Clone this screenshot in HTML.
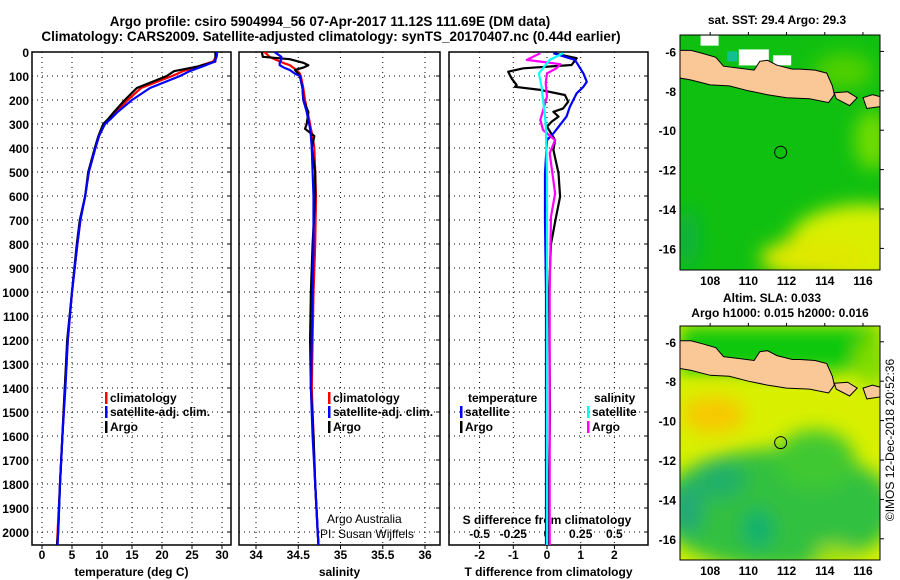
<!DOCTYPE html>
<html><head><meta charset="utf-8">
<style>
html,body{margin:0;padding:0;background:#fff;}
svg{display:block;font-family:"Liberation Sans",Arial,sans-serif;}
.b{font-weight:bold;font-size:12px;}
</style></head>
<body>
<svg id="chart" width="900" height="580" viewBox="0 0 900 580" xmlns="http://www.w3.org/2000/svg">
<defs>
<clipPath id="c1"><rect x="32" y="52" width="199" height="493"/></clipPath>
<clipPath id="c2"><rect x="239" y="52" width="201" height="493"/></clipPath>
<clipPath id="c3"><rect x="449" y="52" width="199" height="493"/></clipPath>
<clipPath id="cm1"><rect x="680" y="35" width="200" height="235"/></clipPath>
<clipPath id="cm2"><rect x="680" y="326" width="200" height="234"/></clipPath>
<filter id="bl" x="-50%" y="-50%" width="200%" height="200%"><feGaussianBlur stdDeviation="9"/></filter>
<filter id="bl2" x="-50%" y="-50%" width="200%" height="200%"><feGaussianBlur stdDeviation="4"/></filter>
</defs>
<text x="330" y="26" text-anchor="middle" font-size="13.5" font-weight="bold">Argo profile: csiro 5904994_56 07-Apr-2017 11.12S 111.69E (DM data)</text>
<text x="331" y="41" text-anchor="middle" font-size="13.5" font-weight="bold">Climatology: CARS2009. Satellite-adjusted climatology: synTS_20170407.nc (0.44d earlier)</text>
<g id="panels"></g>
<g id="maps"></g>
<text transform="translate(894,440) rotate(-90)" text-anchor="middle" font-size="12">©IMOS 12-Dec-2018 20:52:36</text>
</svg>
<script>
// ---------- DATA ----------
const depthTicks = [0,100,200,300,400,500,600,700,800,900,1000,1100,1200,1300,1400,1500,1600,1700,1800,1900,2000];
const tempTicks = [0,5,10,15,20,25,30];
const salTicks = [34,34.5,35,35.5,36];
const tdiffTicks = [-2,-1,0,1,2];
const sdiffTicks = [-0.5,-0.25,0,0.25,0.5];
const sdiffTickLabels = ["-0.5","-0.25","0","0.25","0.5"];
const lonTicks = [108,110,112,114,116];
const latTicks = [-6,-8,-10,-12,-14,-16];

const tDepth = [0,20,40,60,80,100,150,200,250,280,300,350,400,500,600,700,800,1000,1200,1400,1600,1800,2000,2055];
const tempClim = [29.0,29.0,28.5,26.0,23.5,21.7,16.5,14.3,12.2,11.2,10.4,9.5,8.9,7.8,7.2,6.4,5.9,5.0,4.3,3.8,3.4,3.0,2.6,2.5];
const tempSat = [29.2,29.1,28.8,26.8,24.6,23.0,18.0,15.0,12.6,11.4,10.5,9.5,8.9,7.8,7.2,6.4,5.9,5.0,4.3,3.9,3.4,3.0,2.7,2.6];
const tempArgo = [28.9,28.9,28.9,26.0,22.0,20.8,15.8,13.8,12.0,11.0,10.2,9.4,8.8,7.7,7.2,6.3,5.8,5.0,4.2,3.8,3.4,3.0,2.7,2.5];

const sDepth = [0,20,30,45,55,65,75,90,100,150,200,250,300,320,350,400,500,600,800,1000,1200,1400,1600,1800,2000,2055];
const salClim = [34.10,34.16,34.22,34.32,34.40,34.44,34.48,34.52,34.53,34.56,34.58,34.61,34.64,34.65,34.67,34.69,34.70,34.71,34.70,34.68,34.67,34.66,34.68,34.70,34.73,34.74];
const salSat = [34.22,34.30,34.30,34.28,34.28,34.33,34.40,34.46,34.52,34.55,34.56,34.60,34.63,34.64,34.65,34.66,34.67,34.68,34.68,34.67,34.66,34.65,34.67,34.70,34.73,34.74];
const salArgo = [34.07,34.08,34.40,34.56,34.62,34.56,34.46,34.50,34.52,34.55,34.56,34.62,34.60,34.58,34.69,34.66,34.70,34.70,34.67,34.65,34.64,34.65,34.68,34.70,34.73,34.74];

const dDepthArgoT = [5,26,54,68,82,110,138,145,158,179,207,235,249,269,290,311,367,408,505,603,686,800,1000,1500,2055];
const tdiffArgo = [0.19,0.88,0.73,-0.70,-1.15,-1.05,-0.90,-0.95,-0.20,0.53,0.63,0.48,0.19,0.34,0.14,0.0,0.24,0.19,0.34,0.39,0.27,0.12,0.06,0.09,0.03];
const dDepthSatT = [5,33,89,124,145,172,228,269,339,367,505,700,1000,2055];
const tdiffSat = [0.19,0.83,1.08,1.18,1.08,0.88,0.68,0.58,0.19,0.0,-0.06,-0.06,-0.03,-0.03];
const dDepthArgoS = [5,33,51,68,89,130,186,283,325,367,422,589,686,1000,2055];
const sdiffArgo = [-0.05,-0.15,0.10,0.07,0.0,-0.01,0.0,-0.05,-0.03,0.06,0.02,0.06,0.03,0.02,0.02];
const dDepthSatS = [5,33,89,145,297,505,1000,2055];
const sdiffSat = [0.12,0.02,-0.06,-0.04,-0.01,0.0,0.0,0.0];

const floatLon = 111.69, floatLat = -11.12;
const javaLon = [106.4,107,107.6,108.3,108.7,109.5,110.3,110.6,111.0,111.5,112.3,112.7,113.5,114.1,114.4,114.5,114.2,113.2,112,111,110,109,108,107,106.4];
const javaLat = [-5.95,-5.95,-6.1,-6.3,-6.75,-6.85,-6.95,-6.5,-6.45,-6.7,-6.9,-6.9,-6.95,-7.1,-7.75,-8.2,-8.6,-8.4,-8.35,-8.2,-8.0,-7.75,-7.7,-7.45,-7.35];
const baliLon = [114.5,115.2,115.7,115.3,114.6];
const baliLat = [-8.1,-8.05,-8.35,-8.75,-8.4];
const lombokLon = [116.0,116.5,116.9,116.9,116.2];
const lombokLat = [-8.35,-8.2,-8.3,-8.8,-8.9];

// ---------- SCALES ----------
const yD = d => 52 + 0.24*d;
const xT = t => 42 + 6*t;
const xS = s => 256 + 84.5*(s-34);
const xDT = d => 547 + 33.7*d;
const xDS = s => 547 + 134.8*s;
const mX = l => 679.6 + (l-106.4)*19.1;
const mY1 = la => 51.4 + (-6-la)*19.7;
const mY2 = la => 341.8 + (-6-la)*19.7;

const NS = "http://www.w3.org/2000/svg";
function mk(tag, attrs, parent){ const e=document.createElementNS(NS,tag); for(const k in attrs) e.setAttribute(k,attrs[k]); parent.appendChild(e); return e; }
function txt(x,y,s,cls,anchor,parent){ const e=mk('text',{x:x,y:y,'text-anchor':anchor||'start'},parent); if(cls) e.setAttribute('class',cls); e.textContent=s; return e; }

const panels = document.getElementById('panels');
const P = [
 {x0:32,x1:231,clip:'c1',name:'temperature-panel',ticks:tempTicks,xf:xT,title:'temperature (deg C)',lab:t=>String(t)},
 {x0:239,x1:440,clip:'c2',name:'salinity-panel',ticks:salTicks,xf:xS,title:'salinity',lab:t=>String(t)},
 {x0:449,x1:648,clip:'c3',name:'difference-panel',ticks:tdiffTicks,xf:xDT,title:'T difference from climatology',lab:t=>String(t)}
];
P.forEach((p,pi)=>{
  const g = mk('g',{},panels);
  
  
  const grid = mk('g',{'clip-path':'url(#'+p.clip+')',stroke:'#000','stroke-width':1,'stroke-dasharray':'1,4'},g);
  
  
  depthTicks.forEach(d=>{ mk('line',{x1:p.x0,x2:p.x1,y1:yD(d),y2:yD(d)},grid); });
  p.ticks.forEach(t=>{ mk('line',{x1:p.xf(t),x2:p.xf(t),y1:52,y2:545},grid); });
  const fr = mk('rect',{x:p.x0,y:52,width:p.x1-p.x0,height:493,fill:'none',stroke:'#000','stroke-width':1.5},g);
  
  
  p.ticks.forEach(t=>{
    mk('line',{x1:p.xf(t),x2:p.xf(t),y1:545,y2:549,stroke:'#000'},g);
    const l = txt(p.xf(t),559,p.lab(t),'b','middle',g);
    
    
  });
  const at = txt((p.x0+p.x1)/2,576,p.title,'b','middle',g);
  
  
  depthTicks.forEach(d=>{ mk('line',{x1:p.x1-4,x2:p.x1,y1:yD(d),y2:yD(d),stroke:'#000'},g); });
});
depthTicks.forEach(d=>{
  const l = txt(29,yD(d)+5,String(d),'b','end',panels);
  
  
});
// S diff ticks inside panel 3
sdiffTicks.forEach((s,i)=>{
  const l = txt(xDS(s),538,sdiffTickLabels[i],'b','middle',panels);
  
  
});
const sdt = txt(547,524,'S difference from climatology','b','middle',panels);



function line(xs, ds, xf, color, clip, name, w){
  const pts = xs.map((v,i)=>xf(v).toFixed(1)+','+yD(ds[i]).toFixed(1)).join(' ');
  const e = mk('polyline',{points:pts,fill:'none',stroke:color,'stroke-width':w||2.2,'stroke-linejoin':'round','clip-path':'url(#'+clip+')'},panels);
  
  
}
line(tempClim,tDepth,xT,'#ff0000','c1','temp-climatology-line');
line(tempArgo,tDepth,xT,'#000000','c1','temp-argo-line');
line(tempSat,tDepth,xT,'#0000ff','c1','temp-satellite-line');
line(salClim,sDepth,xS,'#ff0000','c2','sal-climatology-line');
line(salArgo,sDepth,xS,'#000000','c2','sal-argo-line');
line(salSat,sDepth,xS,'#0000ff','c2','sal-satellite-line');
line(tdiffArgo,dDepthArgoT,xDT,'#000000','c3','tdiff-argo-line');
line(tdiffSat,dDepthSatT,xDT,'#0000ff','c3','tdiff-satellite-line');
line(sdiffArgo,dDepthArgoS,xDS,'#ff00ff','c3','sdiff-argo-line');
line(sdiffSat,dDepthSatS,xDS,'#00ffff','c3','sdiff-satellite-line');

function legend(x,y,color,label){
  const g = mk('g',{},panels);
  
  
  mk('rect',{x:x,y:y-10,width:2.5,height:12,fill:color},g);
  txt(x+5,y,label,'b','start',g);
}
legend(105,402,'#ff0000','climatology');
legend(105,416,'#0000ff','satellite-adj. clim.');
legend(105,431,'#000000','Argo');
legend(328,402,'#ff0000','climatology');
legend(328,416,'#0000ff','satellite-adj. clim.');
legend(328,431,'#000000','Argo');
const lt1 = txt(468,402,'temperature','b','start',panels);


const lt2 = txt(594,402,'salinity','b','start',panels);


legend(460,416,'#0000ff','satellite');
legend(460,431,'#000000','Argo');
legend(587,416,'#00ffff','satellite');
legend(587,431,'#ff00ff','Argo');
const cr1 = txt(327,523,'Argo Australia',null,'start',panels);
cr1.setAttribute('font-size','12');


const cr2 = txt(320,538,'PI: Susan Wijffels',null,'start',panels);
cr2.setAttribute('font-size','12');



// ---------- MAPS ----------
const maps = document.getElementById('maps');
function poly(lons,lats,yf,parent,name){
  const pts = lons.map((l,i)=>mX(l).toFixed(1)+','+yf(lats[i]).toFixed(1)).join(' ');
  const e = mk('polygon',{points:pts,fill:'#fac896',stroke:'#000','stroke-width':1},parent);
  
  
}
function map(top,h,yf,clip,name,kind){
  const g = mk('g',{},maps);
  
  
  const f = mk('g',{'clip-path':'url(#'+clip+')'},g);
  if(kind==='sst'){
    mk('rect',{x:680,y:top,width:200,height:h,fill:'#10c010'},f);
    const b = mk('g',{filter:'url(#bl)'},f);
    mk('ellipse',{cx:mX(116),cy:yf(-15.8),rx:75,ry:40,fill:'#d8f000'},b);
    mk('ellipse',{cx:mX(113.5),cy:yf(-16.5),rx:55,ry:20,fill:'#e0e800'},b);
    mk('ellipse',{cx:mX(116.5),cy:yf(-10.5),rx:18,ry:30,fill:'#70dc00'},b);
    mk('ellipse',{cx:mX(106.8),cy:yf(-15.5),rx:12,ry:30,fill:'#10b040'},b);
    mk('ellipse',{cx:mX(115),cy:yf(-7),rx:30,ry:18,fill:'#50d000'},b);
    mk('rect',{x:mX(107.5),y:yf(-5.2),width:18,height:10,fill:'#fff'},f);
    mk('rect',{x:mX(109.5),y:yf(-5.9),width:30,height:16,fill:'#fff'},f);
    mk('rect',{x:mX(111.3),y:yf(-6.2),width:18,height:10,fill:'#fff'},f);
    mk('rect',{x:mX(108.9),y:yf(-6.0),width:10,height:10,fill:'#10c090'},f);
  } else {
    mk('rect',{x:680,y:top,width:200,height:h,fill:'#d8f000'},f);
    const b = mk('g',{filter:'url(#bl)'},f);
    mk('rect',{x:680,y:top,width:200,height:yf(-7.5)-top,fill:'#10c810'},b);
    mk('ellipse',{cx:mX(116.5),cy:yf(-7),rx:18,ry:25,fill:'#80dc00'},b);
    mk('ellipse',{cx:mX(108.2),cy:yf(-9.7),rx:32,ry:18,fill:'#f8c800'},b);
    mk('ellipse',{cx:mX(111.5),cy:yf(-14.5),rx:120,ry:60,fill:'#30c040'},b);
    mk('ellipse',{cx:mX(113.5),cy:yf(-12),rx:40,ry:30,fill:'#40c830'},b);
    mk('ellipse',{cx:mX(108.5),cy:yf(-13),rx:25,ry:20,fill:'#20b068'},b);
    mk('ellipse',{cx:mX(110.5),cy:yf(-15.5),rx:15,ry:20,fill:'#10b070'},b);
    mk('ellipse',{cx:mX(106.8),cy:yf(-14.5),rx:15,ry:25,fill:'#20a878'},b);
    mk('ellipse',{cx:mX(114.5),cy:yf(-16.8),rx:20,ry:10,fill:'#a0e000'},b);
  }
  poly(javaLon,javaLat,yf,f,'java-land');
  poly(baliLon,baliLat,yf,f,'bali-land');
  poly(lombokLon,lombokLat,yf,f,'lombok-land');
  const c = mk('circle',{cx:mX(floatLon),cy:yf(floatLat),r:6,fill:'none',stroke:'#000','stroke-width':1},f);
  
  
  mk('rect',{x:680,y:top,width:200,height:h,fill:'none',stroke:'#000','stroke-width':1},g);
  lonTicks.forEach(l=>{
    mk('line',{x1:mX(l),x2:mX(l),y1:top-3,y2:top,stroke:'#000'},g);
    const t = txt(mX(l),top+h+15,String(l),'b','middle',g);
    t.setAttribute('font-size','13');
    
    
  });
  latTicks.forEach(la=>{
    mk('line',{x1:880,x2:884,y1:yf(la),y2:yf(la),stroke:'#000'},g);
    const t = txt(676,yf(la)+5,String(la),'b','end',g);
    t.setAttribute('font-size','13');
    
    
  });
}
map(35,235,mY1,'cm1','sst-map','sst');
map(326,234,mY2,'cm2','sla-map','sla');
const mt1 = txt(777,24,'sat. SST: 29.4 Argo: 29.3','b','middle',maps);


const mt2 = txt(772,302,'Altim. SLA: 0.033','b','middle',maps);


const mt3 = txt(780,317,'Argo h1000: 0.015 h2000: 0.016','b','middle',maps);


</script>
</body></html>
